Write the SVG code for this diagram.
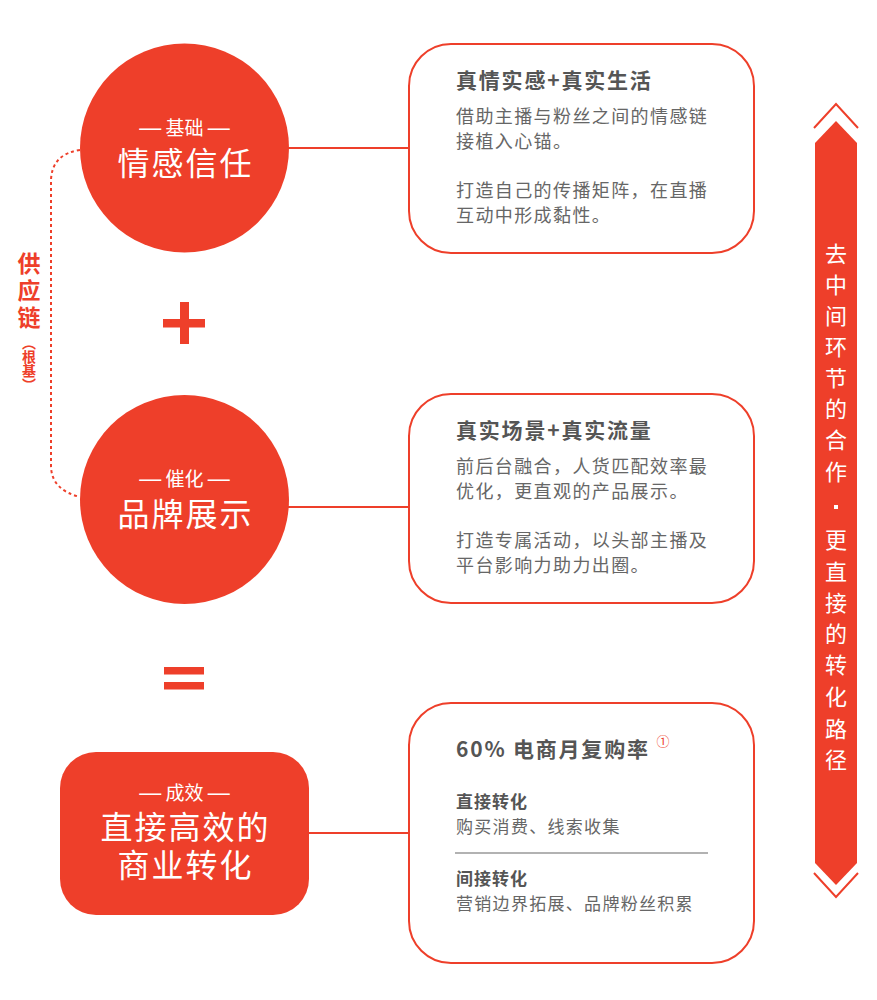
<svg xmlns="http://www.w3.org/2000/svg" width="877" height="1000" viewBox="0 0 877 1000">
<style>
.red{fill:#ee3f2a}
.f{font-family:"Noto Sans CJK SC","Noto Sans",sans-serif}
.w{fill:#fff;text-anchor:middle}
.sub{font-size:19px}
.d{font-family:"Liberation Sans",sans-serif;font-size:22px}
.big{font-size:32px;letter-spacing:2px}
.box{fill:#fff;stroke:#ee3f2a;stroke-width:2}
.conn{stroke:#ee3f2a;stroke-width:2;fill:none}
.ttl{font-size:21px;font-weight:bold;fill:#555;letter-spacing:1.8px}
.body{font-size:18px;fill:#666;letter-spacing:1.4px}
.b3h{font-size:17px;font-weight:bold;fill:#555;letter-spacing:1px}
.b3{font-size:17px;fill:#666;letter-spacing:1.3px}
.vt{font-size:22px;fill:#fff;text-anchor:middle;dominant-baseline:central}
.vert{writing-mode:vertical-rl;fill:#ee3f2a;font-weight:bold}
</style>
<rect width="877" height="1000" fill="#fff"/>
<g id="connectors">
<line class="conn" x1="288" y1="148" x2="409" y2="148"/>
<line class="conn" x1="288" y1="507" x2="409" y2="507"/>
<line class="conn" x1="308" y1="833" x2="409" y2="833"/>
<path d="M80,150 Q52,154 51,180 L51,467 Q52,490 80,497" fill="none" stroke="#ee3f2a" stroke-width="2" stroke-dasharray="3 3"/>
</g>
<g id="supply-chain-label" class="f">
<text class="vert" x="29" y="252" font-size="23" letter-spacing="4">供应链</text>
<text class="vert" x="29" y="336" font-size="14">（根基）</text>
</g>
<g id="node-foundation" class="f">
<circle class="red" cx="184.5" cy="148" r="104.5"/>
<text class="w sub" x="184.5" y="135"><tspan class="d">—</tspan> 基础 <tspan class="d">—</tspan></text>
<text class="w big" x="185.5" y="175">情感信任</text>
</g>
<g id="plus">
<rect class="red" x="163" y="319" width="42" height="8.5"/>
<rect class="red" x="180" y="302" width="9" height="42"/>
</g>
<g id="node-catalyst" class="f">
<circle class="red" cx="184.5" cy="499.5" r="104.5"/>
<text class="w sub" x="184.5" y="486"><tspan class="d">—</tspan> 催化 <tspan class="d">—</tspan></text>
<text class="w big" x="185.5" y="526">品牌展示</text>
</g>
<g id="equals">
<rect class="red" x="164" y="667" width="40" height="7.5"/>
<rect class="red" x="164" y="682" width="40" height="7.5"/>
</g>
<g id="node-result" class="f">
<rect class="red" x="60" y="752" width="249" height="163" rx="36"/>
<text class="w sub" x="184.5" y="800"><tspan class="d">—</tspan> 成效 <tspan class="d">—</tspan></text>
<text class="w big" x="185.5" y="839">直接高效的</text>
<text class="w big" x="185.5" y="877">商业转化</text>
</g>
<g id="box-emotion" class="f">
<rect class="box" x="409" y="44" width="345" height="209" rx="42"/>
<text class="ttl" x="456" y="88">真情实感+真实生活</text>
<text class="body" x="456" y="123">借助主播与粉丝之间的情感链</text>
<text class="body" x="456" y="148">接植入心锚。</text>
<text class="body" x="456" y="197">打造自己的传播矩阵，在直播</text>
<text class="body" x="456" y="222">互动中形成黏性。</text>
</g>
<g id="box-scene" class="f">
<rect class="box" x="409" y="394" width="345" height="209" rx="42"/>
<text class="ttl" x="456" y="438">真实场景+真实流量</text>
<text class="body" x="456" y="473">前后台融合，人货匹配效率最</text>
<text class="body" x="456" y="498">优化，更直观的产品展示。</text>
<text class="body" x="456" y="547">打造专属活动，以头部主播及</text>
<text class="body" x="456" y="572">平台影响力助力出圈。</text>
</g>
<g id="box-conversion" class="f">
<rect class="box" x="409" y="703" width="345" height="260" rx="42"/>
<text class="ttl" x="456" y="757">60% 电商月复购率</text>
<text x="663" y="746" font-size="13" fill="#ee3f2a" text-anchor="middle">①</text>
<text class="b3h" x="456" y="808">直接转化</text>
<text class="b3" x="456" y="833">购买消费、线索收集</text>
<line x1="455" y1="853" x2="708" y2="853" stroke="#999" stroke-width="1.5"/>
<text class="b3h" x="456" y="885">间接转化</text>
<text class="b3" x="456" y="910">营销边界拓展、品牌粉丝积累</text>
</g>
<g id="side-arrow" class="f">
<polygon class="red" points="836,121 857,143 857,863 836,885 815,863 815,143"/>
<polyline points="814,128 836,104 858,128" fill="none" stroke="#ee3f2a" stroke-width="2"/>
<polyline points="814,873 836,897 858,873" fill="none" stroke="#ee3f2a" stroke-width="2"/>
<text class="vt" x="836" y="252">去</text>
<text class="vt" x="836" y="283">中</text>
<text class="vt" x="836" y="314">间</text>
<text class="vt" x="836" y="345">环</text>
<text class="vt" x="836" y="376">节</text>
<text class="vt" x="836" y="407">的</text>
<text class="vt" x="836" y="438">合</text>
<text class="vt" x="836" y="470">作</text>
<rect x="834" y="505" width="4" height="4" fill="#fff"/>
<text class="vt" x="836" y="538">更</text>
<text class="vt" x="836" y="570">直</text>
<text class="vt" x="836" y="601">接</text>
<text class="vt" x="836" y="632">的</text>
<text class="vt" x="836" y="663">转</text>
<text class="vt" x="836" y="695">化</text>
<text class="vt" x="836" y="727">路</text>
<text class="vt" x="836" y="758">径</text>
</g>
</svg>
